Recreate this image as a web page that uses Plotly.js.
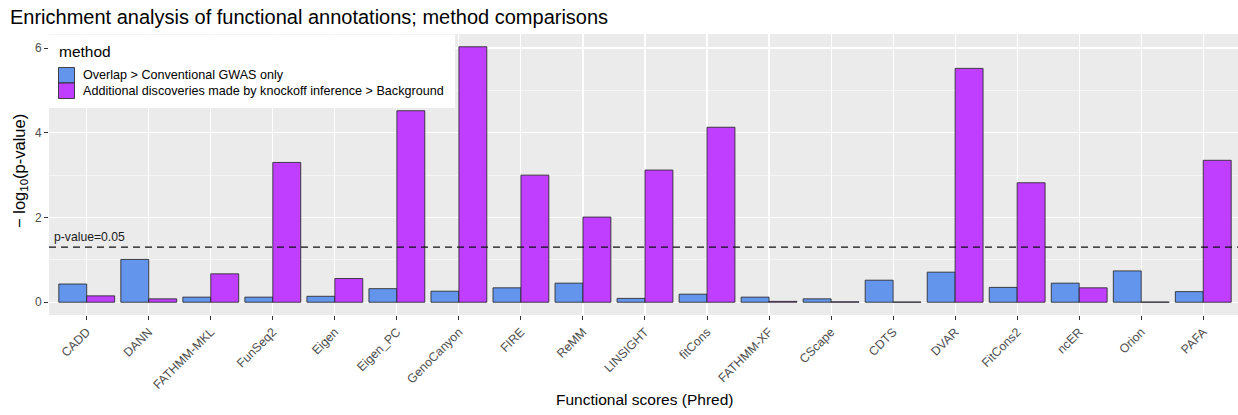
<!DOCTYPE html>
<html>
<head>
<meta charset="utf-8">
<script src="https://cdn.plot.ly/plotly-3.0.1.min.js"></script>
<style>
  html, body { margin: 0; padding: 0; background: #ffffff; }
  #chart { width: 1238px; height: 415px; }
</style>
</head>
<body>
<div id="chart"></div>
<script>
// Functional score sets compared
const categories = ["CADD", "DANN", "FATHMM-MKL", "FunSeq2", "Eigen", "Eigen_PC", "GenoCanyon",
  "FIRE", "ReMM", "LINSIGHT", "fitCons", "FATHMM-XF", "CScape", "CDTS", "DVAR", "FitCons2",
  "ncER", "Orion", "PAFA"];

// -log10(p-value) per method
const overlapValues = [0.43, 1.01, 0.12, 0.12, 0.14, 0.32, 0.26, 0.34, 0.45, 0.09, 0.19,
  0.12, 0.08, 0.52, 0.71, 0.35, 0.45, 0.74, 0.25];
const additionalValues = [0.15, 0.08, 0.67, 3.30, 0.56, 4.52, 6.03, 3.00, 2.01, 3.12, 4.13,
  0.02, 0.01, 0.005, 5.52, 2.82, 0.34, 0.005, 3.35];

const seriesNames = ["Overlap > Conventional GWAS only",
  "Additional discoveries made by knockoff inference > Background"];
const seriesColors = ["#6495ED", "#BF3EFF"];

const pThreshold = 0.05;
const pLine = -Math.log10(pThreshold);

const FONT = "Liberation Sans, Arial, Helvetica, sans-serif";
const outline = "rgba(40,40,40,0.85)";

// plot-area geometry (pixels) used to place the hand-drawn legend
const W = 1238, H = 415;
const M = { l: 49, r: 0, t: 34, b: 100 };
const pw = W - M.l - M.r, ph = H - M.t - M.b;
const xp = px => (px - M.l) / pw;
const yp = py => (H - M.b - py) / ph;

const traces = [
  { type: "bar", x: categories, y: overlapValues, name: seriesNames[0],
    marker: { color: seriesColors[0], line: { color: outline, width: 1 } }, showlegend: false },
  { type: "bar", x: categories, y: additionalValues, name: seriesNames[1],
    marker: { color: seriesColors[1], line: { color: outline, width: 1 } }, showlegend: false }
];

// y range: 5% padding either side of [0, max]
const yMax = Math.max(...overlapValues, ...additionalValues);
const pad = 0.05 * yMax;

const shapes = [
  // significance threshold
  { type: "line", xref: "paper", x0: 0, x1: 1, yref: "y", y0: pLine, y1: pLine,
    line: { color: "#111111", width: 1.2, dash: "7px,5px" }, layer: "above" },
  // legend panel
  { type: "rect", xref: "paper", yref: "paper", x0: xp(49), x1: xp(455), y0: yp(108), y1: yp(34.5),
    fillcolor: "#ffffff", line: { width: 0 }, layer: "above" },
  { type: "rect", xref: "paper", yref: "paper", x0: xp(58.5), x1: xp(74.5), y0: yp(83), y1: yp(67.5),
    fillcolor: seriesColors[0], line: { color: outline, width: 1 }, layer: "above" },
  { type: "rect", xref: "paper", yref: "paper", x0: xp(58.5), x1: xp(74.5), y0: yp(98.5), y1: yp(83),
    fillcolor: seriesColors[1], line: { color: outline, width: 1 }, layer: "above" }
];

const annotations = [
  { xref: "paper", yref: "y", x: xp(52), y: pLine, xanchor: "left", yanchor: "bottom", yshift: 1,
    text: "p-value=0.05", showarrow: false, font: { family: FONT, size: 12.2, color: "#1a1a1a" } },
  { xref: "paper", yref: "paper", x: xp(57), y: yp(51.5), xanchor: "left", yanchor: "middle",
    text: "method", showarrow: false, font: { family: FONT, size: 15.5, color: "#000000" } },
  { xref: "paper", yref: "paper", x: xp(81), y: yp(75), xanchor: "left", yanchor: "middle",
    text: seriesNames[0], showarrow: false, font: { family: FONT, size: 12.6, color: "#000000" } },
  { xref: "paper", yref: "paper", x: xp(81), y: yp(91), xanchor: "left", yanchor: "middle",
    text: seriesNames[1], showarrow: false, font: { family: FONT, size: 12.6, color: "#000000" } },
  // axis titles
  { xref: "paper", yref: "paper", x: xp(20), y: yp(171), xanchor: "center", yanchor: "middle",
    textangle: -90, text: "\u2212 log<sub>10</sub>(p-value)", showarrow: false,
    font: { family: FONT, size: 16.5, color: "#000000" } },
  { xref: "paper", yref: "paper", x: xp(644), y: yp(399), xanchor: "center", yanchor: "middle",
    text: "Functional scores (Phred)", showarrow: false,
    font: { family: FONT, size: 15.5, color: "#000000" } }
];

const layout = {
  width: W, height: H,
  margin: M,
  paper_bgcolor: "#ffffff",
  plot_bgcolor: "#EBEBEB",
  barmode: "group",
  bargap: 0.1,
  bargroupgap: 0,
  title: {
    text: "Enrichment analysis of functional annotations; method comparisons",
    xref: "container", yref: "container", x: 10 / W, xanchor: "left",
    y: 1 - 17 / H, yanchor: "middle",
    font: { family: FONT, size: 20, color: "#000000" }
  },
  xaxis: {
    type: "category",
    range: [-0.608, 18.56],
    showgrid: true, gridcolor: "#ffffff", gridwidth: 1.1,
    zeroline: false, showline: false,
    ticks: "outside", ticklen: 4, tickcolor: "#333333", tickwidth: 1,
    tickangle: -45,
    tickfont: { family: FONT, size: 12.3, color: "#4D4D4D" }
  },
  yaxis: {
    range: [-pad, yMax + pad],
    dtick: 2, tick0: 0,
    showgrid: true, gridcolor: "#ffffff", gridwidth: 1.1,
    minor: { dtick: 1, showgrid: true, gridcolor: "#ffffff", gridwidth: 0.5 },
    zeroline: false, showline: false,
    ticks: "outside", ticklen: 4, tickcolor: "#333333", tickwidth: 1,
    tickfont: { family: FONT, size: 12, color: "#4D4D4D" }
  },
  shapes: shapes,
  annotations: annotations,
  showlegend: false
};

Plotly.newPlot("chart", traces, layout, { staticPlot: true, displayModeBar: false });
</script>
</body>
</html>
